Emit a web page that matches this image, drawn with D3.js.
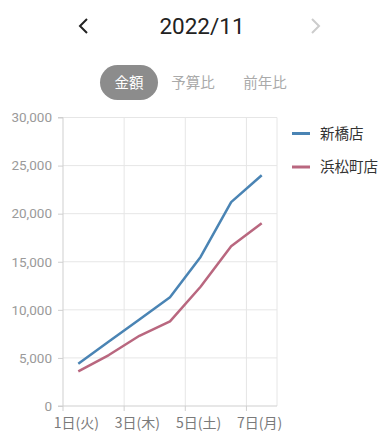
<!DOCTYPE html>
<html><head><meta charset="utf-8">
<script src="https://cdn.jsdelivr.net/npm/d3@7"></script>
<style>
html,body{margin:0;padding:0;background:#fff;}
svg{display:block;font-family:"Noto Sans CJK JP","Noto Sans",sans-serif;}
</style></head>
<body><svg id="c" width="379" height="432"></svg>
<script>
const title = "2022/11";
const tabs = ["金額", "予算比", "前年比"];
const days = ["1日(火)", "2日(水)", "3日(木)", "4日(金)", "5日(土)", "6日(日)", "7日(月)"];
const seriesNames = ["新橋店", "浜松町店"];
const shinbashi = [4400, 6700, 9000, 11300, 15500, 21200, 24000];
const hamamatsucho = [3600, 5300, 7300, 8800, 12400, 16600, 19000];
const yTicks = [0, 5000, 10000, 15000, 20000, 25000, 30000];
const colors = ["#4a84b4", "#b9677f"];

const svg = d3.select("#c");
const pL = 63, pR = 277, pT = 117.5, pB = 406;

// header
svg.append("path").attr("d", "M87,19 L80,26 L87,33").attr("fill", "none").attr("stroke", "#222").attr("stroke-width", 2);
svg.append("text").attr("x", 202).attr("y", 34).attr("text-anchor", "middle").attr("font-size", 22.5).attr("fill", "#222")
  .style("font-family", "Roboto, 'Noto Sans', sans-serif").text(title);
svg.append("path").attr("d", "M312,19 L319,26 L312,33").attr("fill", "none").attr("stroke", "#ccc").attr("stroke-width", 2);

// tabs
svg.append("rect").attr("x", 100).attr("y", 65).attr("width", 58).attr("height", 35).attr("rx", 17.5).attr("fill", "#8c8c8c");
const tabX = [129, 193, 265];
svg.selectAll("text.tab").data(tabs).join("text").attr("class", "tab")
  .attr("x", (d, i) => tabX[i]).attr("y", 88).attr("text-anchor", "middle").attr("font-size", 14.5)
  .attr("fill", (d, i) => i === 0 ? "#fff" : "#aaa").text(d => d);

const x = d3.scaleBand().domain(days).range([pL, pR]);
const y = d3.scaleLinear().domain([0, 30000]).range([pB, pT]);

// horizontal grid
svg.append("g").selectAll("line").data(yTicks.slice(1)).join("line")
  .attr("x1", pL).attr("x2", pR).attr("y1", d => y(d)).attr("y2", d => y(d))
  .attr("stroke", "#e6e6e6").attr("stroke-width", 1);
// vertical grid at band starts of odd days + right edge
const vx = days.filter((d, i) => i % 2 === 0).map(d => x(d)).concat([pR]);
svg.append("g").selectAll("line").data(vx.slice(1)).join("line")
  .attr("x1", d => d).attr("x2", d => d).attr("y1", pT).attr("y2", pB)
  .attr("stroke", "#e6e6e6").attr("stroke-width", 1);

// y axis
const yAxis = d3.axisLeft(y).tickValues(yTicks).tickSize(5).tickPadding(6).tickFormat(d3.format(","));
const gy = svg.append("g").attr("transform", `translate(${pL},0)`).call(yAxis);
gy.attr("font-family", null).attr("font-size", null);
gy.select(".domain").attr("stroke", "#cfcfcf").attr("d", `M-5,${pT}H0V${pB}H-5`);
gy.selectAll(".tick line").attr("stroke", "#cfcfcf");
gy.selectAll(".tick text").attr("fill", "#9a9a9a").style("font-size", "13.5px").style("font-family", "Roboto, 'Noto Sans', sans-serif");

// x axis
svg.append("line").attr("x1", pL).attr("x2", pR).attr("y1", pB).attr("y2", pB).attr("stroke", "#cfcfcf");
svg.append("g").selectAll("line").data(vx.slice(0, 4)).join("line")
  .attr("x1", d => d).attr("x2", d => d).attr("y1", pB).attr("y2", pB + 5).attr("stroke", "#cfcfcf");
svg.append("g").selectAll("text").data(days.filter((d, i) => i % 2 === 0)).join("text")
  .attr("x", d => x(d) + x.bandwidth() / 2 - 2).attr("y", 428).attr("text-anchor", "middle")
  .attr("font-size", 14).attr("fill", "#7a7a7a").text(d => d);

// lines
const line = d3.line().x((d, i) => x(days[i]) + x.bandwidth() / 2).y(d => y(d));
[shinbashi, hamamatsucho].forEach((s, k) => {
  svg.append("path").datum(s).attr("d", line).attr("fill", "none")
    .attr("stroke", colors[k]).attr("stroke-width", 2.5).attr("stroke-linejoin", "round");
});

// legend
const ly = [133.5, 167];
seriesNames.forEach((n, k) => {
  svg.append("line").attr("x1", 292).attr("x2", 310).attr("y1", ly[k]).attr("y2", ly[k])
    .attr("stroke", colors[k]).attr("stroke-width", 3);
  svg.append("text").attr("x", 320).attr("y", ly[k] + 5).attr("font-size", 14.5).attr("fill", "#333").text(n);
});
</script></body></html>
